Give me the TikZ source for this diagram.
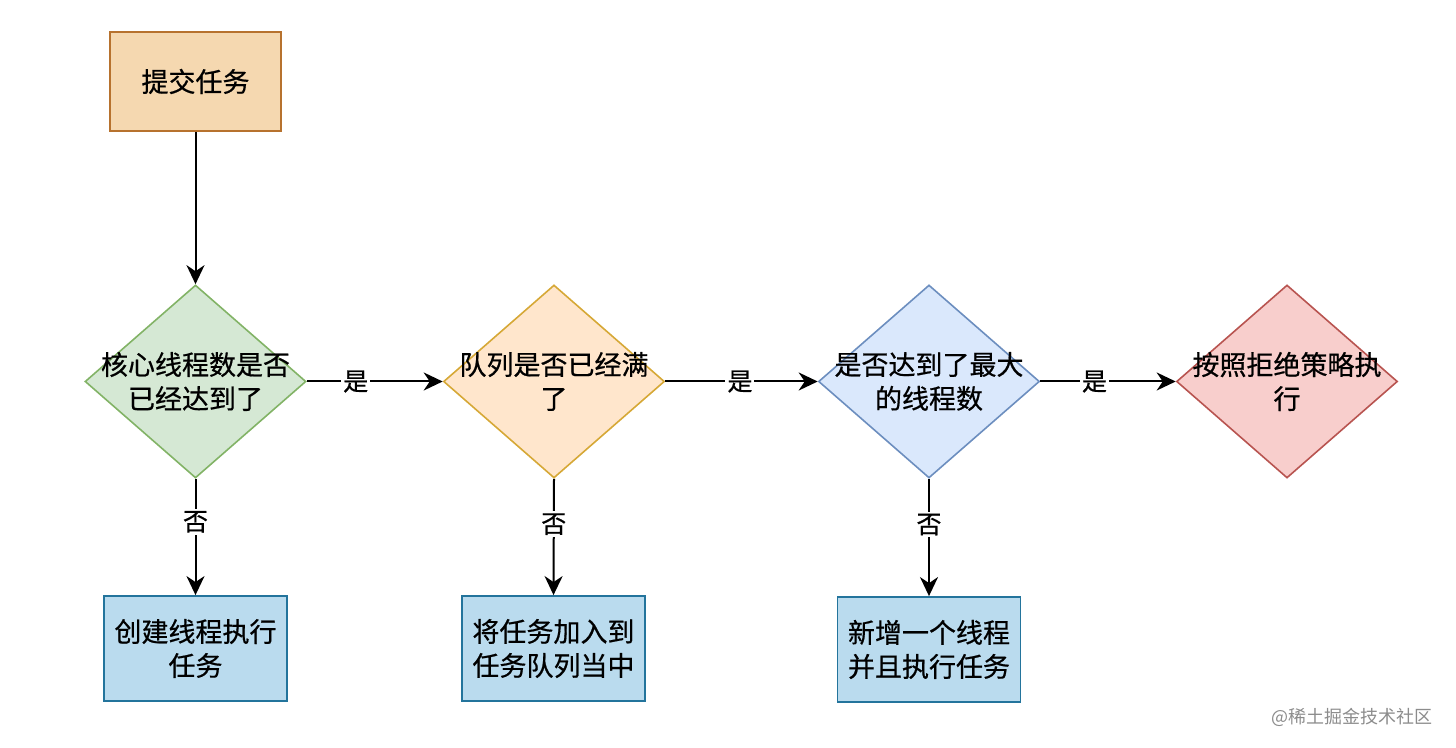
\documentclass[tikz,border=0pt]{standalone}
\usepackage{fontspec}
\newfontfamily\cjk[FakeBold=0.6]{Noto Sans CJK SC}
\newfontfamily\cjkwm{Noto Sans CJK SC}
\usetikzlibrary{shapes.geometric,arrows.meta}
\definecolor{orfill}{HTML}{F5D8B0}
\definecolor{ordraw}{HTML}{B7722E}
\definecolor{grfill}{HTML}{D5E8D4}
\definecolor{grdraw}{HTML}{82B366}
\definecolor{yefill}{HTML}{FFE6CC}
\definecolor{yedraw}{HTML}{D6A836}
\definecolor{blfill}{HTML}{DAE8FC}
\definecolor{bldraw}{HTML}{6C8EBF}
\definecolor{rdfill}{HTML}{F8CECC}
\definecolor{rddraw}{HTML}{B85450}
\definecolor{bxfill}{HTML}{BADBEE}
\definecolor{bxdraw}{HTML}{23749C}
\begin{document}
\begin{tikzpicture}[x=0.5pt,y=-0.5pt,
  dia/.style={diamond,draw=#1draw,fill=#1fill,line width=0.8pt,inner sep=0pt,minimum width=110.5pt,minimum height=96.5pt},
  txt/.style={font=\cjk\fontsize{13.5}{17}\selectfont,align=center,text=black},
  lbl/.style={font=\cjk\fontsize{12.5}{14}\selectfont,fill=white,inner sep=1pt,text=black},
  resbox/.style={draw=bxdraw,fill=bxfill,line width=0.9pt,minimum width=91.5pt,minimum height=52.5pt,align=center,font=\cjk\fontsize{13.5}{17}\selectfont},
  arr/.style={-{Stealth[length=9.5pt,width=9pt,inset=3pt]},line width=1pt,black}]
\useasboundingbox (0,0) rectangle (1456,748);
\node[draw=ordraw,fill=orfill,line width=0.9pt,minimum width=85.5pt,minimum height=49.5pt,font=\cjk\fontsize{13.5}{17}\selectfont] (start) at (195.5,81.5) {提交任务};
\node[dia=gr] (d1) at (195.5,381.5) {};
\node[dia=ye] (d2) at (554,381.5) {};
\node[dia=bl] (d3) at (929,381.5) {};
\node[dia=rd] (d4) at (1287,381.5) {};
\node[txt] (t1) at (d1) {核心线程数是否\\已经达到了};
\node[txt] (t2) at (d2) {队列是否已经满\\了};
\node[txt] (t3) at (d3) {是否达到了最大\\的线程数};
\node[txt] (t4) at (d4) {按照拒绝策略执\\行};
\node[resbox] (b1) at (195.5,648.5) {创建线程执行\\任务};
\node[resbox] (b2) at (553.5,648.5) {将任务加入到\\任务队列当中};
\node[resbox] (b3) at (929,649.5) {新增一个线程\\并且执行任务};
\draw[arr] (start) -- (d1.north);
\draw[arr] (d1.east) -- node[lbl,pos=0.36] (y1) {是} (d2.west);
\draw[arr] (d2.east) -- node[lbl,pos=0.49] (y2) {是} (d3.west);
\draw[arr] (d3.east) -- node[lbl,pos=0.40] (y3) {是} (d4.west);
\draw[arr] (d1.south) -- node[lbl,pos=0.37] (n1) {否} (b1.north);
\draw[arr] (d2.south) -- node[lbl,pos=0.39] (n2) {否} (b2.north);
\draw[arr] (d3.south) -- node[lbl,pos=0.39] (n3) {否} (b3.north);
\node[font=\cjkwm\fontsize{9}{11}\selectfont,text=black!45,anchor=east] (wm) at (1440,717) {@稀土掘金技术社区};
\end{tikzpicture}
\end{document}
